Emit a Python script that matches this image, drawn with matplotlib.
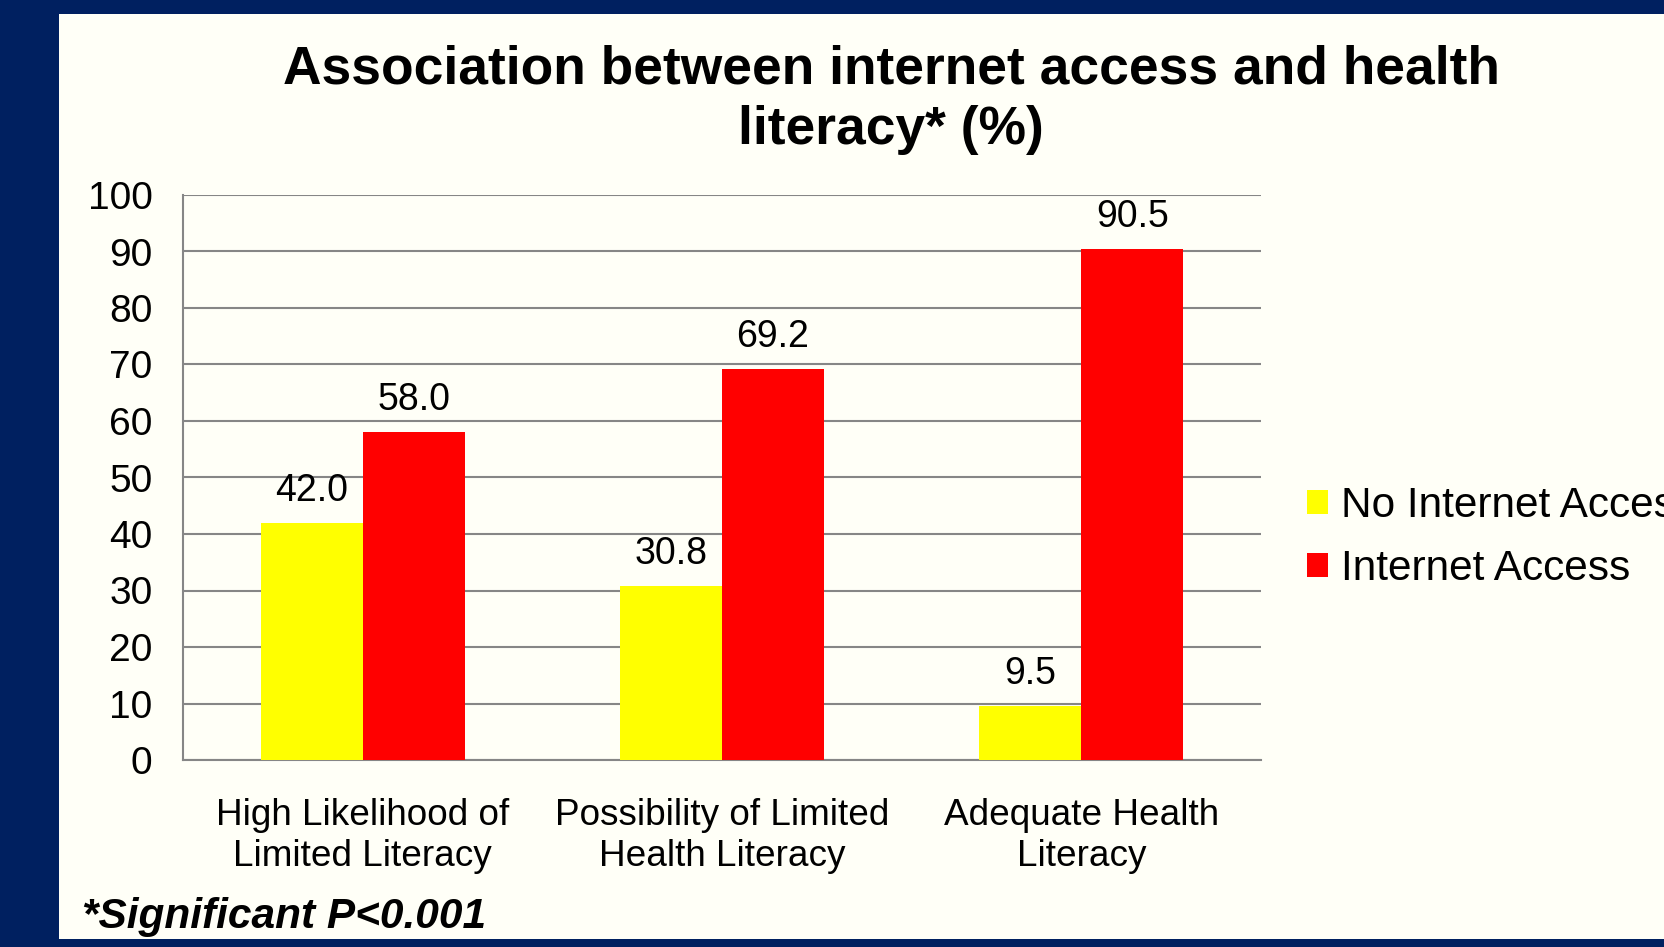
import matplotlib.pyplot as plt
from matplotlib.patches import Rectangle
import numpy as np

plt.rcParams['font.family'] = ['Liberation Sans', 'DejaVu Sans']

categories = ['High Likelihood of\nLimited Literacy', 'Possibility of Limited\nHealth Literacy', 'Adequate Health\nLiteracy']
no_internet = [42.0, 30.8, 9.5]
internet = [58.0, 69.2, 90.5]
series_names = ['No Internet Access', 'Internet Access']
yticks = list(range(0, 101, 10))

navy = '#002060'
panel = '#FFFFF7'
grid = '#868686'

fig = plt.figure(figsize=(16.64, 9.47), dpi=100, facecolor=navy)
# white slide panel
fig.patches.append(Rectangle((59 / 1664, 8 / 947), 1 - 59 / 1664, (939 - 14) / 947,
                             transform=fig.transFigure, facecolor=panel, edgecolor='none', zorder=-5))

ax = fig.add_axes([183 / 1664, (947 - 760) / 947, (1261 - 183) / 1664, (760 - 195) / 947])
ax.set_facecolor(panel)
ax.set_zorder(2)

x = np.arange(len(categories))
w = 0.284
b1 = ax.bar(x - w / 2, no_internet, w, color='#FFFF00', label=series_names[0], zorder=3)
b2 = ax.bar(x + w / 2, internet, w, color='#FF0000', label=series_names[1], zorder=3)

for bars in (b1, b2):
    for r in bars:
        ax.annotate(f'{r.get_height():.1f}', (r.get_x() + r.get_width() / 2, r.get_height()),
                    xytext=(0, 10), textcoords='offset points', ha='center', va='bottom', fontsize=27)

ax.set_xlim(-0.5, 2.5)
ax.set_ylim(0, 100)
ax.set_yticks(yticks)
ax.yaxis.grid(True, color=grid, linewidth=1.5, zorder=0)
ax.set_axisbelow(True)
for s in ['top', 'right']:
    ax.spines[s].set_visible(False)
for s in ['left', 'bottom']:
    ax.spines[s].set_color(grid)
    ax.spines[s].set_linewidth(1.5)
ax.tick_params(axis='y', length=0, labelsize=28, pad=22)
ax.tick_params(axis='x', length=0, labelsize=26.6, pad=27)
ax.set_xticks(x)
ax.set_xticklabels(categories, linespacing=1.24)

fig.text(891 / 1664, 1 - 100 / 947, 'Association between internet access and health\nliteracy* (%)',
         ha='center', va='center', fontsize=38.4, fontweight='bold', linespacing=1.27)
fig.text(82 / 1664, 1 - 917 / 947, '*Significant P<0.001', ha='left', va='center',
         fontsize=30.5, fontweight='bold', fontstyle='italic')

leg = fig.legend(handles=[b1, b2], labels=series_names, loc='upper left',
                 bbox_to_anchor=(1307 / 1664, 1 - 486 / 947), frameon=False, fontsize=30.5,
                 handlelength=0.5, handleheight=0.5, handletextpad=0.3, labelspacing=0.55,
                 borderaxespad=0, borderpad=0)

fig.savefig('out.png', dpi=100, facecolor=navy)
